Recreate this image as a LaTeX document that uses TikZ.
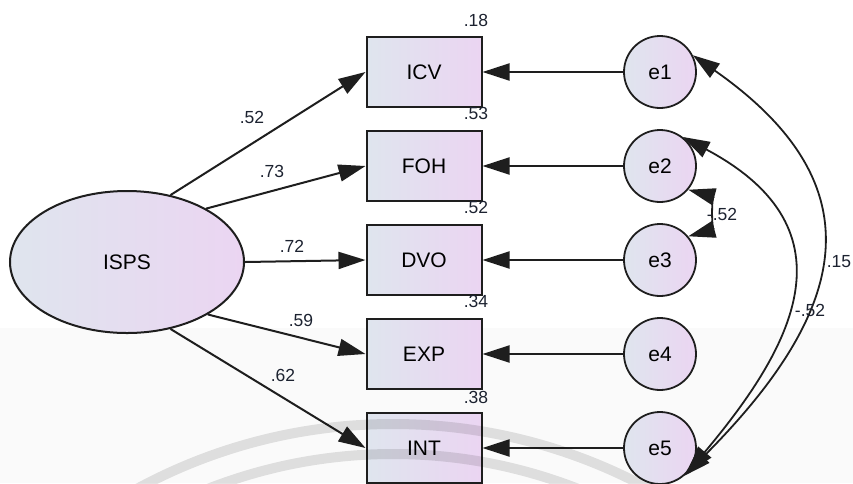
\documentclass[tikz,border=0pt]{standalone}
\usepackage{fontspec}
\setmainfont{Liberation Sans}
\usetikzlibrary{arrows.meta,shapes.geometric}
\definecolor{gA}{HTML}{DFE5EE}
\definecolor{gB}{HTML}{EBD5F2}
\definecolor{edgec}{HTML}{1E1E1E}
\definecolor{lblc}{HTML}{1C2230}
\begin{document}
\begin{tikzpicture}[x=1pt,y=1pt,
  nodetext/.style={font=\fontsize{21}{25}\selectfont, text=black},
  obs/.style={nodetext, rectangle, draw=edgec, line width=2pt, left color=gA, right color=gB,
    minimum width=115pt, minimum height=70pt, inner sep=0pt},
  errc/.style={nodetext, circle, draw=edgec, line width=1.8pt, left color=gA, right color=gB,
    minimum size=72pt, inner sep=0pt},
  lat/.style={nodetext, ellipse, draw=edgec, line width=2pt, left color=gA, right color=gB,
    minimum width=234pt, minimum height=142pt, inner sep=0pt},
  tipT/.tip={Triangle[length=27pt,width=17pt]},
  arr/.style={-tipT, line width=2pt, draw=edgec},
  biarr/.style={tipT-tipT, line width=1.8pt, draw=edgec},
  lbl/.style={font=\fontsize{17.5}{20}\selectfont, text=lblc, inner sep=0pt}
]
\path[use as bounding box] (0,0) rectangle (853,-483);
\fill[black!2] (0,-328) rectangle (853,-483);

% latent
\node[lat] (ISPS) at (127,-262) {ISPS};

% observed
\node[obs] (ICV) at (424,-72)  {ICV};
\node[obs] (FOH) at (424,-166) {FOH};
\node[obs] (DVO) at (424,-260) {DVO};
\node[obs] (EXP) at (424,-354) {EXP};
\node[obs] (INT) at (424,-448) {INT};

% errors
\node[errc] (e1) at (660,-72)  {e1};
\node[errc] (e2) at (660,-166) {e2};
\node[errc] (e3) at (660,-260) {e3};
\node[errc] (e4) at (660,-354) {e4};
\node[errc] (e5) at (660,-448) {e5};

% loadings
\draw[arr] (ISPS.57)  -- (ICV.west);
\draw[arr] (ISPS.34)  -- (FOH.west);
\draw[arr] (ISPS.0)   -- (DVO.west);
\draw[arr] (ISPS.-33) -- (EXP.west);
\draw[arr] (ISPS.-57) -- (INT.west);

% error paths
\draw[arr] (e1.west) -- (ICV.east);
\draw[arr] (e2.west) -- (FOH.east);
\draw[arr] (e3.west) -- (DVO.east);
\draw[arr] (e4.west) -- (EXP.east);
\draw[arr] (e5.west) -- (INT.east);

% covariances
\draw[biarr] (e1.27) .. controls +(-35:230pt) and +(45:230pt) .. (e5.-49);
\draw[biarr] (e2.52) .. controls +(-28:200pt) and +(50:160pt) .. (e5.-42);
\draw[biarr] (e2.-40) .. controls +(-15:24pt) and +(15:24pt) .. (e3.40);

% labels
\node[lbl] (r1) at (476,-20)  {.18};
\node[lbl] (r2) at (476,-113) {.53};
\node[lbl] (r3) at (476,-207) {.52};
\node[lbl] (r4) at (476,-301) {.34};
\node[lbl] (r5) at (476,-397) {.38};
\node[lbl] (w1) at (252,-117) {.52};
\node[lbl] (w2) at (272,-171) {.73};
\node[lbl] (w3) at (292,-246) {.72};
\node[lbl] (w4) at (301,-320) {.59};
\node[lbl] (w5) at (283,-375) {.62};
\node[lbl] (c23) at (722,-214) {-.52};
\node[lbl] (c15) at (839,-262) {.15};
\node[lbl] (c25) at (810,-310) {-.52};

% watermark bands
\begin{scope}
\clip (0,0) rectangle (853,-483);
\draw[black, opacity=0.11, line width=10pt] (393,-961) circle (537);
\draw[black, opacity=0.11, line width=10pt] (393,-961) circle (507);
\end{scope}
\end{tikzpicture}
\end{document}
